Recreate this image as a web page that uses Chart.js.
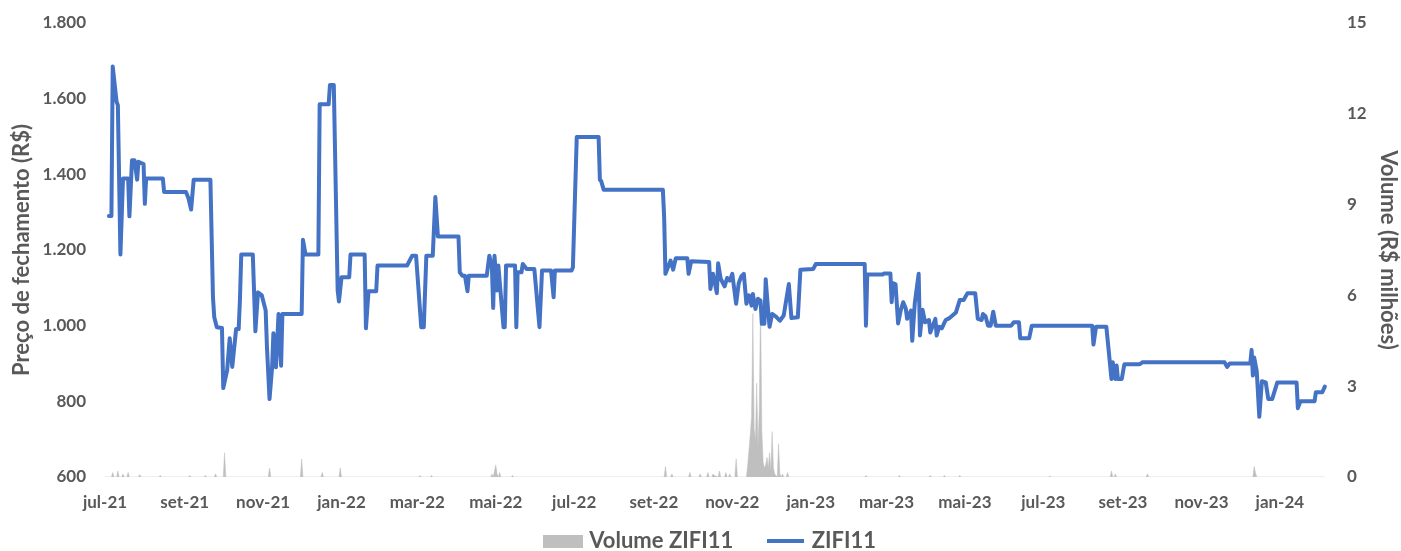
<!DOCTYPE html>
<html lang="pt-BR">
<head>
    <meta charset="UTF-8">
    <title>ZIFI11</title>
    <style>
        body {
            margin: 0;
            background-color: #fff;
        }
        #wrap {
            width: 1401px;
            height: 551px;
        }
    </style>
    <script src="https://cdn.jsdelivr.net/npm/chart.js"></script>
</head>
<body>
    <div id="wrap">
        <canvas id="zifiChart" width="1401" height="551"></canvas>
    </div>
    <script>
        // dias contados a partir de 01/07/2021
        const priceDays = [
            3, 5, 6, 9, 10, 12, 14, 18, 19, 21,
            23, 25, 26, 30, 31, 32, 45, 46, 63, 65,
            67, 69, 82, 84, 85, 87, 91, 92, 95, 97,
            99, 102, 104, 105, 106, 115, 117, 119, 122, 125,
            126, 128, 130, 131, 133, 135, 137, 138, 153, 154,
            156, 166, 167, 174, 175, 178, 181, 182, 184, 190,
            191, 202, 203, 205, 211, 212, 235, 239, 242, 246,
            248, 250, 255, 257, 259, 275, 276, 278, 280, 282,
            283, 297, 299, 301, 302, 303, 305, 306, 310, 311,
            312, 319, 320, 321, 324, 325, 328, 334, 338, 340,
            347, 349, 350, 363, 364, 367, 384, 385, 386, 388,
            434, 435, 436, 440, 442, 444, 453, 454, 456, 470,
            471, 473, 476, 477, 479, 482, 484, 486, 488, 491,
            493, 495, 497, 499, 501, 503, 504, 506, 508, 510,
            511, 513, 514, 516, 517, 519, 522, 525, 528, 532,
            534, 539, 541, 551, 553, 591, 592, 593, 605, 606,
            611, 612, 613, 615, 617, 619, 621, 623, 624, 627,
            628, 630, 633, 634, 636, 638, 641, 642, 644, 646,
            647, 649, 651, 654, 657, 662, 665, 668, 671, 677,
            679, 682, 683, 685, 687, 689, 691, 693, 705, 707,
            711, 712, 719, 721, 768, 769, 771, 779, 783, 784,
            786, 787, 788, 791, 793, 805, 807, 871, 873, 875,
            889, 891, 892, 893, 894, 896, 898, 900, 903, 905,
            908, 912, 927, 928, 930, 941, 942, 947, 949
        ];
        const priceValues = [
            1290, 1290, 1685, 1592, 1583, 1188, 1389, 1389, 1289, 1437,
            1437, 1386, 1433, 1427, 1322, 1389, 1389, 1353, 1353, 1336,
            1307, 1386, 1386, 1075, 1022, 996, 994, 835, 881, 967,
            891, 991, 991, 1071, 1188, 1188, 985, 1088, 1080, 1040,
            943, 806, 890, 980, 890, 1031, 894, 1031, 1031, 1227,
            1188, 1188, 1585, 1585, 1636, 1636, 1093, 1064, 1128, 1128,
            1188, 1188, 993, 1091, 1091, 1159, 1159, 1185, 1185, 996,
            996, 1185, 1185, 1340, 1236, 1236, 1141, 1132, 1132, 1091,
            1132, 1132, 1185, 1154, 1047, 1185, 1093, 1159, 996, 996,
            1159, 1159, 996, 1141, 1141, 1163, 1150, 1150, 996, 1146,
            1146, 1075, 1146, 1146, 1154, 1499, 1499, 1386, 1382, 1359,
            1359, 1287, 1137, 1172, 1148, 1178, 1178, 1137, 1170, 1168,
            1097, 1137, 1086, 1165, 1124, 1104, 1126, 1119, 1137, 1058,
            1112, 1130, 1137, 1058, 1080, 1053, 1084, 1044, 1071, 1066,
            1005, 1005, 1123, 1035, 997, 1031, 1024, 1013, 1027, 1110,
            1020, 1022, 1148, 1150, 1163, 1163, 1000, 1135, 1135, 1138,
            1138, 1062, 1112, 1110, 1006, 1040, 1062, 1045, 1018, 1040,
            960, 1060, 1137, 974, 1042, 1009, 1015, 982, 1000, 1018,
            974, 997, 993, 1015, 1020, 1035, 1068, 1068, 1086, 1086,
            1018, 1015, 1031, 1025, 1000, 1000, 1037, 1000, 1000, 1009,
            1009, 967, 967, 1000, 1000, 950, 997, 997, 859, 903,
            859, 895, 859, 859, 898, 898, 903, 903, 891, 900,
            900, 900, 936, 868, 916, 880, 759, 853, 850, 806,
            806, 850, 850, 782, 800, 800, 824, 824, 839
        ];

        // volume em R$ milhoes
        const volumeDays = [
            0, 5, 6, 7, 9, 10, 11, 13, 14, 15,
            17, 18, 19, 26, 27, 28, 42, 43, 44, 65,
            66, 67, 77, 78, 79, 85, 86, 87, 92, 93,
            94, 127, 128, 129, 152, 153, 154, 168, 169, 170,
            182, 183, 184, 244, 245, 246, 253, 254, 255, 300,
            301, 302, 303, 304, 305, 306, 307, 308, 316, 317,
            318, 435, 436, 437, 440, 441, 442, 454, 455, 456,
            462, 463, 464, 468, 469, 470, 472, 473, 474, 477,
            478, 479, 482, 483, 484, 485, 486, 487, 490, 491,
            492, 499, 500, 501, 502, 503, 504, 505, 506, 507,
            508, 509, 510, 511, 512, 513, 514, 515, 516, 517,
            518, 519, 520, 521, 522, 523, 524, 525, 526, 527,
            528, 530, 531, 532, 591, 592, 593, 617, 618, 619,
            641, 642, 643, 652, 653, 654, 664, 665, 666, 734,
            735, 736, 782, 783, 784, 785, 786, 787, 810, 811,
            812, 893, 894, 895, 896, 949
        ];
        const volumeValues = [
            0, 0, 0.15, 0, 0, 0.2, 0, 0, 0.1, 0,
            0, 0.15, 0, 0, 0.08, 0, 0, 0.05, 0, 0,
            0.05, 0, 0, 0.05, 0, 0, 0.1, 0, 0, 0.8,
            0, 0, 0.3, 0, 0, 0.6, 0, 0, 0.15, 0,
            0, 0.3, 0, 0, 0.05, 0, 0, 0.05, 0, 0,
            0.1, 0, 0.2, 0.4, 0.1, 0, 0.15, 0, 0, 0.05,
            0, 0, 0.35, 0, 0, 0.1, 0, 0, 0.15, 0,
            0, 0.1, 0, 0, 0.15, 0, 0, 0.1, 0.05, 0,
            0.2, 0, 0, 0.15, 0, 0, 0.1, 0, 0, 0.6,
            0, 0, 0.4, 0.9, 1.4, 2.0, 5.4, 1.6, 1.2, 3.1,
            1.0, 2.2, 5.8, 1.5, 0.5, 0.3, 0.4, 0.65, 0.3, 0.8,
            0.2, 1.5, 0.3, 0.1, 0.05, 0, 1.1, 0.1, 0, 0.1,
            0, 0, 0.15, 0, 0, 0.05, 0, 0, 0.05, 0,
            0, 0.05, 0, 0, 0.05, 0, 0, 0.05, 0, 0,
            0.03, 0, 0, 0.2, 0, 0, 0.1, 0, 0, 0.1,
            0, 0, 0.35, 0.15, 0, 0
        ];

        const monthTicks = ['jul-21', 'set-21', 'nov-21', 'jan-22', 'mar-22', 'mai-22', 'jul-22',
            'set-22', 'nov-22', 'jan-23', 'mar-23', 'mai-23', 'jul-23', 'set-23', 'nov-23', 'jan-24'];
        const priceTicks = [600, 800, 1000, 1200, 1400, 1600, 1800];
        const volumeTicks = [0, 3, 6, 9, 12, 15];

        const monthNames = ['jan', 'fev', 'mar', 'abr', 'mai', 'jun', 'jul', 'ago', 'set', 'out', 'nov', 'dez'];
        const startDate = Date.UTC(2021, 6, 1);

        function tickDay(label) {
            const parts = label.split('-');
            const m = monthNames.indexOf(parts[0]);
            const y = 2000 + parseInt(parts[1]);
            return Math.round((Date.UTC(y, m, 1) - startDate) / 86400000);
        }

        function fmtThousands(v) {
            return String(v).replace(/\B(?=(\d{3})+(?!\d))/g, '.');
        }

        const textColor = '#595959';
        const fontFamily = 'Lato, "Open Sans", sans-serif';

        // amostras da legenda
        const volSwatch = document.createElement('canvas');
        volSwatch.width = 40;
        volSwatch.height = 13;
        const sctx = volSwatch.getContext('2d');
        sctx.fillStyle = '#BFBFBF';
        sctx.fillRect(0, 0, 40, 13);

        const lineSwatch = document.createElement('canvas');
        lineSwatch.width = 37;
        lineSwatch.height = 4;
        const lctx = lineSwatch.getContext('2d');
        lctx.fillStyle = '#4472C4';
        lctx.fillRect(0, 0, 37, 4);

        const ctx = document.getElementById('zifiChart').getContext('2d');
        const zifiChart = new Chart(ctx, {
            type: 'line',
            data: {
                datasets: [{
                    label: 'Volume ZIFI11',
                    data: volumeDays.map((d, i) => ({ x: d, y: volumeValues[i] })),
                    yAxisID: 'y2',
                    fill: 'origin',
                    backgroundColor: '#BFBFBF',
                    borderColor: '#BFBFBF',
                    borderWidth: 0.5,
                    pointRadius: 0,
                    pointStyle: volSwatch,
                    tension: 0,
                    order: 2
                }, {
                    label: 'ZIFI11',
                    data: priceDays.map((d, i) => ({ x: d, y: priceValues[i] })),
                    yAxisID: 'y',
                    borderColor: '#4472C4',
                    backgroundColor: '#4472C4',
                    borderWidth: 4,
                    borderJoinStyle: 'round',
                    borderCapStyle: 'round',
                    pointRadius: 0,
                    pointStyle: lineSwatch,
                    tension: 0,
                    fill: false,
                    order: 1
                }]
            },
            options: {
                responsive: false,
                animation: false,
                layout: {
                    padding: { top: 0, left: 0, right: 0, bottom: -11 }
                },
                plugins: {
                    tooltip: { enabled: false },
                    legend: {
                        position: 'bottom',
                        fullSize: false,
                        labels: {
                            usePointStyle: true,
                            pointStyleWidth: 30,
                            color: textColor,
                            padding: 0,
                            font: { family: fontFamily, size: 22, weight: 'bold' },
                            generateLabels: (chart) => {
                                const items = Chart.defaults.plugins.legend.labels.generateLabels(chart);
                                items.sort((a, b) => a.datasetIndex - b.datasetIndex);
                                items[0].text += '       ';
                                items[1].text += '  ';
                                return items;
                            }
                        }
                    }
                },
                scales: {
                    x: {
                        type: 'linear',
                        min: 0,
                        max: 953,
                        grid: { display: false, drawTicks: false },
                        border: { display: false },
                        afterBuildTicks: (axis) => {
                            axis.ticks = monthTicks.map(l => ({ value: tickDay(l) }));
                        },
                        afterFit: (axis) => { axis.height = 53; },
                        ticks: {
                            color: textColor,
                            padding: 15,
                            maxRotation: 0,
                            autoSkip: false,
                            font: { family: fontFamily, size: 17, weight: 'bold' },
                            callback: (value) => {
                                const lbl = monthTicks.find(l => tickDay(l) === value);
                                return lbl || '';
                            }
                        }
                    },
                    y: {
                        position: 'left',
                        min: 600,
                        max: 1800,
                        grid: { display: false, drawTicks: false },
                        border: { display: false },
                        afterBuildTicks: (axis) => {
                            axis.ticks = priceTicks.map(v => ({ value: v }));
                        },
                        afterFit: (axis) => {
                            axis.width = 105;
                            axis.paddingTop = 23;
                        },
                        title: {
                            display: true,
                            text: 'Preço de fechamento (R$)',
                            color: textColor,
                            padding: { top: 9, bottom: 0 },
                            font: { family: fontFamily, size: 22, weight: 'bold' }
                        },
                        ticks: {
                            color: textColor,
                            padding: 19,
                            font: { family: fontFamily, size: 17, weight: 'bold' },
                            callback: (v) => fmtThousands(v)
                        }
                    },
                    y2: {
                        position: 'right',
                        min: 0,
                        max: 15,
                        grid: { display: false, drawTicks: false },
                        border: { display: false },
                        afterBuildTicks: (axis) => {
                            axis.ticks = volumeTicks.map(v => ({ value: v }));
                        },
                        afterFit: (axis) => {
                            axis.width = 71;
                            axis.paddingTop = 23;
                        },
                        title: {
                            display: true,
                            text: 'Volume (R$ milhões)',
                            color: textColor,
                            padding: { top: 0, bottom: 0 },
                            font: { family: fontFamily, size: 22, weight: 'bold' }
                        },
                        ticks: {
                            color: textColor,
                            padding: 17,
                            font: { family: fontFamily, size: 17, weight: 'bold' }
                        }
                    }
                }
            }
        });
    </script>
</body>
</html>
